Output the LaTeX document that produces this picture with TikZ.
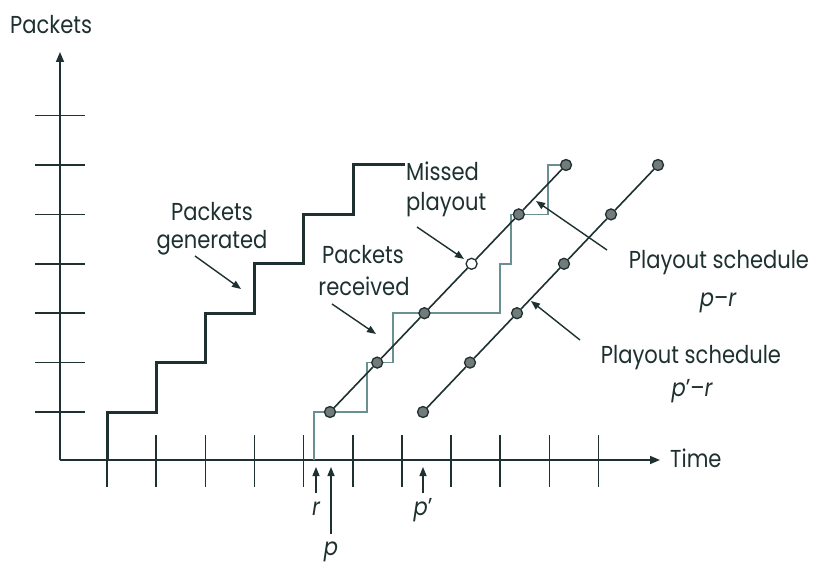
\documentclass[tikz,border=0pt]{standalone}
\usepackage{fontspec}
\setmainfont{Poppins}[FakeStretch=0.86]
\usetikzlibrary{arrows.meta}
\definecolor{ink}{RGB}{30,48,48}
\definecolor{recv}{RGB}{105,145,145}
\definecolor{dotfill}{RGB}{115,122,122}
\begin{document}
\begin{tikzpicture}[x=1pt,y=-1pt,
  axis/.style={draw=ink,line width=1.6pt},
  tickmark/.style={draw=ink,line width=1.5pt},
  gen/.style={draw=ink,line width=3pt,line join=miter},
  recvline/.style={draw=recv,line width=1.6pt},
  sched/.style={draw=ink,line width=1.6pt},
  dot/.style={circle,draw=ink,fill=dotfill,line width=1.3pt,inner sep=0pt,minimum size=11pt},
  odot/.style={dot,fill=white},
  lbl/.style={text=ink,font=\fontsize{24.5}{28}\selectfont,inner sep=0pt},
  ilbl/.style={lbl,font=\fontsize{24.5}{28}\selectfont\itshape},
  pointer/.style={draw=ink,line width=1.4pt,-{Triangle[length=9pt,width=7pt]}},
]
\useasboundingbox (0,0) rectangle (814,564);
\fill[white] (0,0) rectangle (814,564);

% axes
\coordinate (O) at (60,460);
\coordinate (ytop) at (60,52);
\coordinate (xend) at (660,460);
\draw[axis,-{Triangle[length=10pt,width=8pt]}] (O) -- (ytop);
\draw[axis,-{Triangle[length=10pt,width=8pt]}] (O) -- (xend);
\foreach \j in {0,...,6} \draw[tickmark] (35,{412-49.4*\j}) -- (85,{412-49.4*\j});
\foreach \k in {0,...,10} \draw[tickmark] ({107+49.15*\k},435) -- ({107+49.15*\k},487);

% axis labels
\node[lbl,anchor=base west] (ylab) at (10,34) {Packets};
\node[lbl,anchor=base west] (xlab) at (670,467) {Time};

% packets received
\draw[recvline] (314,460) -- (314,412) -- (367,412) -- (367,362.6) -- (393,362.6)
  -- (393,313.2) -- (500,313.2) -- (500,263.8) -- (511,263.8) -- (511,214.4)
  -- (548,214.4) -- (548,165) -- (562,165);

% packets generated
\draw[gen] (107,460) -- (107,412) -- (156.2,412) -- (156.2,362.6) -- (205.4,362.6)
  -- (205.4,313.2) -- (254.6,313.2) -- (254.6,263.8) -- (303.8,263.8) -- (303.8,214.4)
  -- (353,214.4) -- (353,165) -- (405,165);

% playout schedule p-r
\node[dot]  (a0) at (330,412) {};
\node[dot]  (a1) at (377.2,362.6) {};
\node[dot]  (a2) at (424.4,313.2) {};
\node[odot] (a3) at (471.6,263.8) {};
\node[dot]  (a4) at (518.8,214.4) {};
\node[dot]  (a5) at (566,165) {};
\draw[sched] (a0) -- (a1) -- (a2) -- (a3) -- (a4) -- (a5);

% playout schedule p'-r
\node[dot] (b0) at (423,412) {};
\node[dot] (b1) at (470,362.6) {};
\node[dot] (b2) at (517,313.2) {};
\node[dot] (b3) at (564,263.8) {};
\node[dot] (b4) at (611,214.4) {};
\node[dot] (b5) at (658,165) {};
\draw[sched] (b0) -- (b1) -- (b2) -- (b3) -- (b4) -- (b5);

% labels
\node[lbl,anchor=base] (gen1) at (212,221) {Packets};
\node[lbl,anchor=base] (gen2) at (212,248) {generated};
\node[lbl,anchor=base] (rec1) at (363,263) {Packets};
\node[lbl,anchor=base] (rec2) at (364,295) {received};
\node[lbl,anchor=base west] (mis1) at (406,181) {Missed};
\node[lbl,anchor=base west] (mis2) at (406,211) {playout};
\node[lbl,anchor=base] (ps1) at (719,269) {Playout schedule};
\node[ilbl,anchor=base] (ps1b) at (718,306) {p\upshape–\itshape r};
\node[lbl,anchor=base] (ps2) at (691,363) {Playout schedule};
\node[ilbl,anchor=base] (ps2b) at (692,396) {p\upshape’–\itshape r};
\node[ilbl,anchor=base] (rl) at (316,515) {r};
\node[ilbl,anchor=base] (pl) at (331,555) {p};
\node[ilbl,anchor=base] (ppl) at (423,515) {p\upshape’};

% pointer arrows
\coordinate (g0) at (195,256); \coordinate (g1) at (241,289);
\coordinate (r0) at (332,304); \coordinate (r1) at (376,334);
\coordinate (m0) at (417,227); \coordinate (m1) at (464,259);
\coordinate (s0) at (607,250); \coordinate (s1) at (536,201);
\coordinate (t0) at (580,340); \coordinate (t1) at (531,301);
\draw[pointer] (g0) -- (g1);
\draw[pointer] (r0) -- (r1);
\draw[pointer] (m0) -- (m1);
\draw[pointer] (s0) -- (s1);
\draw[pointer] (t0) -- (t1);
\coordinate (ra) at (316,493); \coordinate (rb) at (316,467);
\coordinate (pa) at (331,534); \coordinate (pb) at (331,467);
\coordinate (qa) at (423,493); \coordinate (qb) at (423,467);
\draw[pointer] (ra) -- (rb);
\draw[pointer] (pa) -- (pb);
\draw[pointer] (qa) -- (qb);
\end{tikzpicture}
\end{document}
